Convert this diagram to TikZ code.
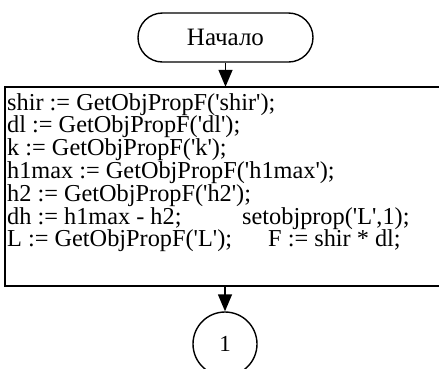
\documentclass[tikz,border=0pt]{standalone}
\usepackage{fontspec}
\setmainfont{Liberation Serif}
\newfontfamily\codefont{Liberation Serif}
\usetikzlibrary{arrows.meta}

\tikzset{
  term/.style={draw,line width=1.4pt,rounded corners=24.5pt,minimum width=175pt,minimum height=49pt,inner sep=0pt},
  procbox/.style={minimum width=480pt,minimum height=199pt,inner sep=0pt},
  boxline/.style={line width=1.8pt},
  conn/.style={draw,circle,line width=1.4pt,minimum size=64pt,inner sep=0pt},
  codeline/.style={anchor=base west,inner sep=0pt,font=\codefont\fontsize{24.3}{23}\selectfont},
  flow/.style={line width=1.4pt,-{Triangle[length=17pt,width=14pt]}}
}

\begin{document}
\begin{tikzpicture}[x=1pt,y=-1pt]
            \useasboundingbox (0,0) rectangle (439,368);
            \clip (0,0) rectangle (439,368);
            \node[term,font=\fontsize{25}{25}\selectfont] (start) at (225.5,37.5) {Начало};
            \node[procbox] (init) at (245,186.5) {};
            % the block runs off the right edge
            \draw[boxline] (init.north east) -- (init.north west) -- (init.south west) -- (init.south east);
            \node[codeline] (l1) at (7,110) {shir := GetObjPropF('shir');};
            \node[codeline] (l2) at (7,132.8) {dl := GetObjPropF('dl');};
            \node[codeline] (l3) at (7,155.6) {k := GetObjPropF('k');};
            \node[codeline] (l4) at (7,178.4) {h1max := GetObjPropF('h1max');};
            \node[codeline] (l5) at (7,201.2) {h2 := GetObjPropF('h2');};
            \node[codeline] (l6) at (7,224) {dh := h1max - h2;};
            \node[codeline] (r6) at (242,224) {setobjprop('L',1);};
            \node[codeline] (l7) at (7,246.8) {L := GetObjPropF('L');};
            \node[codeline] (r7) at (268,246.8) {F := shir * dl;};
            \node[conn,font=\fontsize{23}{23}\selectfont] (c1) at (225,344) {1};
            \draw[flow] (start) -- (start|-init.north);
            \draw[flow] (init.south-|c1) -- (c1);
\end{tikzpicture}
\end{document}
